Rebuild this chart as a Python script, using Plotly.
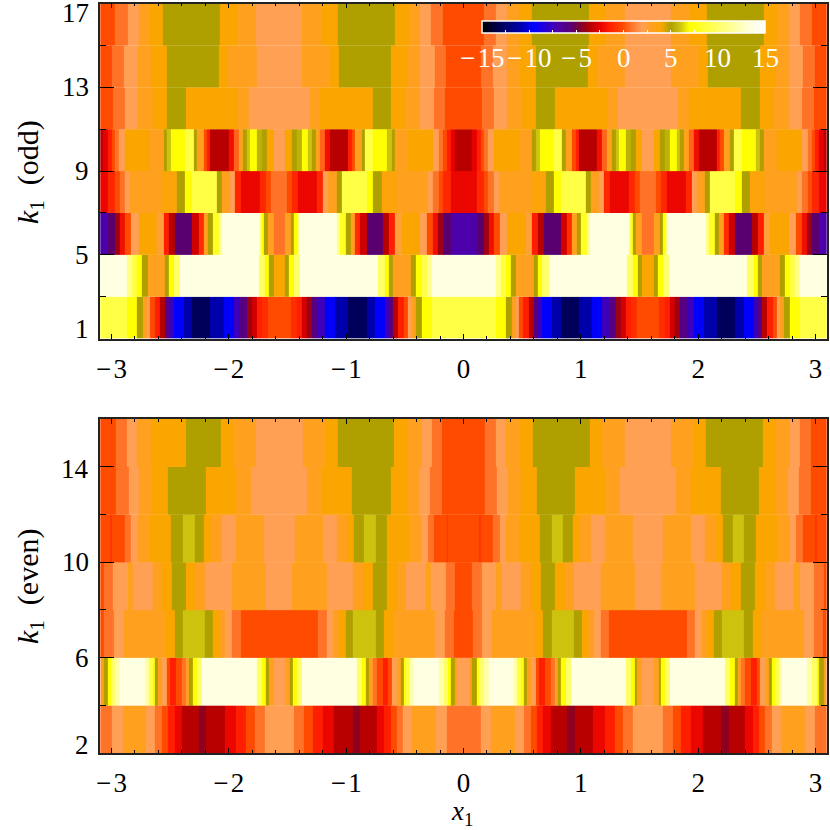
import numpy as np
import plotly.graph_objects as go
from plotly.subplots import make_subplots

# colour table: value -> rgb in the top panel
color_vals = [-15, -13, -11, -9.5, -7, -5.5, -4.5, -3.5, -2.5, -1.5, 0, 0.8, 2, 3, 4, 5, 6, 7, 9, 12, 13.5, 15]
color_rgb = ["rgb(0,0,0)", "rgb(0,0,90)", "rgb(0,0,170)", "rgb(0,0,255)", "rgb(75,0,170)", "rgb(90,0,110)",
             "rgb(130,0,40)", "rgb(185,0,0)", "rgb(230,0,0)", "rgb(255,30,0)", "rgb(255,75,0)", "rgb(255,115,40)",
             "rgb(255,160,85)", "rgb(255,160,30)", "rgb(250,165,0)", "rgb(175,160,0)", "rgb(205,195,15)",
             "rgb(255,255,0)", "rgb(255,255,70)", "rgb(255,255,170)", "rgb(255,255,225)", "rgb(255,255,250)"]

# every row repeats with period pi and mirrors about 0 and pi/2,
# so each one is read off as right band edges and values over 0..pi/2

# top panel, k1 odd
odd_1_x = [.273, .358, .409, .443, .471, .508, .557, .599, .633, .670, .755, .826, .982, 1.096, 1.181, 1.238, 1.295, 1.337, 1.380, 1.422, 1.474, 1.571]
odd_1_z = [9, 7, 5, 3, 2, 0, -1.5, -3.5, -6, -7.5, -9.5, -11, -13, -11, -9.5, -7.5, -6, -4, -3, -1.5, -1, 0]
odd_3_x = [.273, .315, .358, .403, .449, .599, .633, .670, .727, 1.394, 1.445, 1.485, 1.522, 1.571]
odd_3_z = [13.5, 11, 9, 7, 5, 3, 5, 7, 10, 13.5, 10, 7, 5, 4]
odd_5_x = [.111, .173, .216, .258, .309, .372, .528, .585, .633, .684, .826, .883, .926, .963, 1.002, 1.053, 1.079, 1.405, 1.422, 1.442, 1.471, 1.522, 1.571]
odd_5_z = [-7, -5.5, -4, -2, 0, 2, 4, 2.5, -1.5, -3.5, -5.5, -3, -1, 3, 5, 8, 11, 13.5, 10, 7, 5, 3, .8]
odd_7_x = [.111, .173, .210, .258, .301, .571, .698, .769, .826, 1.039, 1.082, 1.153, 1.195, 1.246, 1.408, 1.459, 1.502, 1.571]
odd_7_z = [-2.3, -1.2, 0, .8, 2, 3, 3.7, 5, 7, 9, 5, 3, 2, -1.2, -2.3, -1.2, 0, .8]
odd_9_x = [.071, .111, .145, .173, .207, .258, .471, .585, .613, .650, .769, .840, .869, .926, .954, .982, 1.139, 1.181, 1.224, 1.261, 1.295, 1.323, 1.380, 1.422, 1.465, 1.522, 1.571]
odd_9_z = [-3.5, -2.5, -1.5, 0, .8, 2, 4, 3, 5, 6, 7, 9, 5, 3, 0, -1.5, -3.5, -2, .5, 3, 5, 6, 7, 5.5, 5, 4, 2]
odd_11_x = [.156, .256, .369, .497, .616, .775, 1.221, 1.312, 1.571]
odd_11_z = [0, .8, 2, 3, 4, 5, 4, 3, 2]
odd_13_x = [.148, .247, .369, .477, .616, 1.059, 1.136, 1.377, 1.571]
odd_13_z = [0, .8, 2, 3, 4, 5, 4, 3, 2]
odd_15_x = [.173, .278, .372, .468, .582, 1.068, 1.210, 1.374, 1.571]
odd_15_z = [0, .8, 2, 3, 4, 5, 4, 3, 2]

# bottom panel, k1 even
even_2_x = [.145, .236, .437, .514, .571, .622, .679, .741, .883, .945, 1.105, 1.201, 1.286, 1.360, 1.445, 1.571]
even_2_z = [.8, 2, 3, 2, .8, 0, -1.5, -2.3, -3.5, -4.3, -3.5, -2.3, -1.5, 0, .8, 2]
even_4_x = [.054, .074, .111, .133, .170, .213, .429, .457, .491, .511, .537, .571, .613, .642, .690, .741, .775, .804, .832, .869, .911, 1.380, 1.422, 1.457, 1.479, 1.522, 1.571]
even_4_z = [2, 3, 5, 7, 10, 12, 13.5, 12, 9, 7, 5, 3, 2, 0, -1.5, 0, .8, 3, 5, 7, 10, 13.5, 10, 7, 5, 3, 2]
even_6_x = [.080, .159, .244, .605, .679, .750, .940, 1.005, 1.059, 1.110, 1.167, 1.241, 1.571]
even_6_z = [0, .8, 2, 3, 4, 5, 6, 5, 4, 3, 2, .8, 0]
even_8_x = [.074, .153, .278, .324, .491, .571, .656, .775, .860, .940, 1.167, 1.459, 1.571]
even_8_z = [0, .8, 2, 3, 2, 3, 4, 5, 4, 3, 2, 3, 2]
even_10_x = [.131, .145, .253, .307, .363, .468, .650, .750, .849, .931, .991, 1.082, 1.201, 1.440, 1.571]
even_10_z = [0, -.7, 0, .8, 2, 3, 4, 5, 6, 5, 4, 3, 2, 3, 2]
even_12_x = [.182, .287, .378, .486, .622, .948, 1.204, 1.332, 1.571]
even_12_z = [0, .8, 2, 3, 4, 5, 4, 3, 2]
even_14_x = [.182, .273, .358, .477, .593, 1.073, 1.175, 1.371, 1.571]
even_14_z = [0, .8, 2, 3, 4, 5, 4, 3, 2]

# the one place that breaks the symmetry: first olive band of the top even row is cut short
even_14_patch_x = [-2.578, -2.362]
even_14_patch_z = [4]

odd_rows = [(1, odd_1_x, odd_1_z), (3, odd_3_x, odd_3_z), (5, odd_5_x, odd_5_z), (7, odd_7_x, odd_7_z),
            (9, odd_9_x, odd_9_z), (11, odd_11_x, odd_11_z), (13, odd_13_x, odd_13_z), (15, odd_15_x, odd_15_z)]
even_rows = [(2, even_2_x, even_2_z), (4, even_4_x, even_4_z), (6, even_6_x, even_6_z), (8, even_8_x, even_8_z),
             (10, even_10_x, even_10_z), (12, even_12_x, even_12_z), (14, even_14_x, even_14_z)]
k_step = 2

MINUS = "\u2212\u200a"
x_ticks = [-3, -2, -1, 0, 1, 2, 3]
x_ticktext = [MINUS + "3", MINUS + "2", MINUS + "1", "0", "1", "2", "3"]
odd_ticks = [1, 5, 9, 13, 17]
even_ticks = [2, 6, 10, 14]
bar_ticks = [-15, -10, -5, 0, 5, 10, 15]
bar_ticktext = [MINUS + "15", MINUS + "10", MINUS + "5", "0", "5", "10", "15"]
bar_minor = [-15, -12.5, -10, -7.5, -5, -2.5, 0, 2.5, 5, 7.5, 10, 12.5, 15]

SIZE = 830
FONT = "Liberation Serif"
FONT_SIZE = 27
BAR_LEFT, BAR_WIDTH = 482, 283


def unfold(edges, vals):
    e = np.array(edges)
    half_e = np.r_[0, e, np.pi - e[-2::-1], np.pi]
    half_v = np.r_[vals, vals[::-1]]
    return np.r_[-half_e[:0:-1], half_e], np.r_[half_v[::-1], half_v]


def add_rows(fig, rows, row):
    for k, edges, vals in rows:
        xs, zs = unfold(edges, vals)
        fig.add_trace(go.Heatmap(x=xs, y=[k, k + k_step], z=[zs], coloraxis="coloraxis"), row=row, col=1)


fig = make_subplots(rows=2, cols=1)
add_rows(fig, odd_rows, 1)
add_rows(fig, even_rows, 2)
fig.add_trace(go.Heatmap(x=even_14_patch_x, y=[14, 16], z=[even_14_patch_z], coloraxis="coloraxis"), row=2, col=1)

fig.update_layout(
    width=SIZE,
    height=SIZE,
    margin=dict(l=0, r=0, t=0, b=0, autoexpand=False),
    paper_bgcolor="white",
    plot_bgcolor="white",
    showlegend=False,
    font=dict(family=FONT, size=FONT_SIZE, color="black"),
    coloraxis=dict(
        cmin=-15,
        cmax=15,
        colorscale=[[(v + 15) / 30, c] for v, c in zip(color_vals, color_rgb)],
        colorbar=dict(
            orientation="h",
            lenmode="pixels",
            len=BAR_WIDTH,
            thicknessmode="pixels",
            thickness=12,
            x=BAR_LEFT / SIZE,
            xanchor="left",
            y=1 - 21 / SIZE,
            yanchor="top",
            xpad=0,
            ypad=0,
            outlinecolor="white",
            outlinewidth=1.5,
            ticks="inside",
            ticklen=3,
            tickcolor="white",
            tickwidth=1,
            tickvals=bar_minor,
            showticklabels=False,
        ),
    ),
)

fig.update_xaxes(
    range=[-3.095, 3.095],
    domain=[100.3 / SIZE, 826.7 / SIZE],
    tickvals=x_ticks,
    ticktext=x_ticktext,
    ticks="inside",
    ticklen=5,
    tickwidth=1.2,
    tickcolor="black",
    minor=dict(dtick=0.2, tick0=0, ticks="inside", ticklen=3, tickwidth=1, tickcolor="black"),
    showgrid=False,
    zeroline=False,
    showline=True,
    linecolor="#222222",
    linewidth=1.5,
    mirror="ticks",
    ticklabelstandoff=5,
    tickfont=dict(family=FONT, size=FONT_SIZE, color="black"),
)
fig.update_yaxes(
    showgrid=False,
    zeroline=False,
    showline=True,
    linecolor="#222222",
    linewidth=1.5,
    mirror="ticks",
    ticks="inside",
    ticklen=14,
    tickwidth=1.2,
    tickcolor="black",
    showticklabels=False,
)
fig.update_yaxes(
    range=[1, 17], domain=[1 - 338.5 / SIZE, 1 - 3.5 / SIZE], tickvals=odd_ticks,
    minor=dict(tickvals=[3, 7, 11, 15], ticks="inside", ticklen=6, tickcolor="black"),
    row=1, col=1,
)
fig.update_yaxes(
    range=[2, 16], domain=[1 - 753 / SIZE, 1 - 419 / SIZE], tickvals=even_ticks,
    minor=dict(tickvals=[4, 8, 12], ticks="inside", ticklen=6, tickcolor="black"),
    row=2, col=1,
)

# y tick labels as text: the first and last ones sit inside the frame in the original
label_right = 91 / SIZE
for axis, ticks, nudges in [("y", odd_ticks, {1: 9, 17: -9.5}), ("y2", even_ticks, {2: 8, 14: -2})]:
    for t in ticks:
        fig.add_annotation(xref="paper", yref=axis, x=label_right, y=t, yshift=nudges.get(t, 0), text=str(t),
                           showarrow=False, xanchor="right", yanchor="middle",
                           font=dict(family=FONT, size=FONT_SIZE, color="black"))

for text, py in [("<i>k</i><sub>1</sub>\u00a0\u00a0(odd)", 172), ("<i>k</i><sub>1</sub>\u00a0\u00a0(even)", 587)]:
    fig.add_annotation(xref="paper", yref="paper", x=30 / SIZE, y=1 - py / SIZE, text=text, textangle=-90,
                       xanchor="center", yanchor="middle", showarrow=False,
                       font=dict(family=FONT, size=30, color="black"))
fig.add_annotation(xref="paper", yref="paper", x=462 / SIZE, y=1 - 813 / SIZE, text="<i>x</i><sub>1</sub>",
                   xanchor="center", yanchor="middle", showarrow=False,
                   font=dict(family=FONT, size=FONT_SIZE, color="black"))

# colour bar labels, below the bar in white
for v, text in zip(bar_ticks, bar_ticktext):
    fig.add_annotation(xref="paper", yref="paper", x=(BAR_LEFT + (v + 15) / 30 * BAR_WIDTH) / SIZE,
                       y=1 - 58 / SIZE, text=text, xanchor="center", yanchor="middle", showarrow=False,
                       font=dict(family=FONT, size=FONT_SIZE, color="white"))

# the page's default body margin would push the figure 8 px off the window
fig.write_html("out.html", config={"displayModeBar": False}, post_script="document.body.style.margin = '0';")
